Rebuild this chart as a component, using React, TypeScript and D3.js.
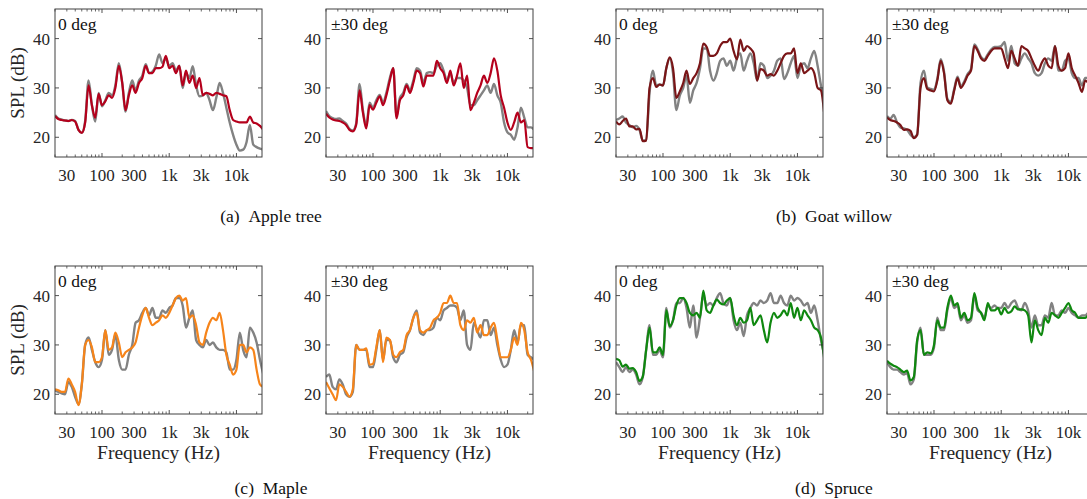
import React from 'react';
import * as d3 from 'd3';

// frequency grid shared by every curve (Hz)
const FREQS = [20, 22.4, 25.1, 28.2, 31.6, 35.5, 39.8, 44.7, 50.1, 56.2, 63.1, 70.8, 79.4, 89.1,
  100, 112, 126, 141, 158, 178, 200, 224, 251, 282, 316, 355, 398, 447, 501, 562, 631, 708, 794, 891,
  1000, 1122, 1259, 1413, 1585, 1778, 1995, 2239, 2512, 2818, 3162, 3548, 3981, 4467, 5012, 5623,
  6310, 7079, 7943, 8913, 10000, 11220, 12589, 14125, 15849, 17783, 19953, 22387, 25119];

const X_TICK_LABELS = [30, 100, 300, 1000, 3000, 10000];
const X_MAJOR = [100, 1000, 10000];
const X_MINOR = [20, 30, 40, 50, 60, 70, 80, 90, 200, 300, 400, 500, 600, 700, 800, 900,
  2000, 3000, 4000, 5000, 6000, 7000, 8000, 9000, 20000];
const Y_TICKS = [20, 30, 40];

// (a) Apple tree
const appleFront = [24.3, 23.7, 23.5, 23.4, 23.3, 23.5, 23.2, 21.5, 20.9, 23, 30.5, 26.5, 24, 28.8, 26.5, 27.3, 28.5, 28, 30, 34.5,
  31, 25.5, 28.5, 30.5, 29, 31, 32, 34.5, 33, 33, 34, 34, 34.3, 36.5, 34, 34.5, 33, 34.5, 30.5, 33.5,
  31, 32.5, 30, 32, 28.5, 29, 28.8, 28.5, 29, 28.8, 28.5, 28.3, 25.5, 23.5, 23.2, 23, 23, 23, 24.2, 23,
  22.8, 22.3, 21.5];
const appleFrontRef = [24.5, 23.8, 23.6, 23.4, 23.3, 23.5, 23.3, 21.5, 20.9, 23.3, 31.5, 26.5, 23.2, 29, 26.3, 27.5, 29, 28.5, 30.5, 35,
  31, 25.2, 29, 31.5, 29.5, 31.5, 32.5, 34.8, 33, 33.3, 34.5, 36.8, 35, 36, 34.5, 35, 33.5, 34.5, 30, 33,
  32, 34.4, 30.5, 28.3, 28.5, 29, 27.5, 25.5, 28, 31, 29, 26, 23, 20.5, 18.5, 17.3, 17.5, 19, 22.5, 18.5,
  18, 17.7, 17.5];
const appleSide = [24.8, 24, 23.6, 23.4, 23.3, 23, 22.5, 21.5, 21.2, 22.5, 29.5, 25, 21.8, 26.5, 25.6, 27, 28.3, 26.5, 28.5, 31.5,
  34, 23.8, 27.5, 28.5, 30.5, 29, 31, 33.5, 33, 30.3, 32.5, 32.5, 32.5, 35.5, 34, 33, 31, 33.5, 30.5, 32.5,
  35, 30, 32.5, 25.5, 27, 29, 30.5, 32.5, 31, 33, 36, 33.5, 28.5, 26, 23, 21.5, 23, 25, 23, 23.5,
  18, 17.8, 17.8];
const appleSideRef = [25.3, 24.3, 23.9, 23.7, 23.8, 23.3, 22.8, 21.7, 21.4, 22.8, 30.8, 25.5, 22.3, 27, 26, 27.5, 28.6, 27, 29, 32,
  34, 24.3, 28, 29, 30.8, 29.5, 31.5, 34, 33.5, 31, 33, 33.2, 33, 34.5, 35, 33.5, 31.5, 33, 31, 32,
  32, 31.5, 30, 26.5, 26.5, 27.5, 28.5, 29.5, 30.5, 29, 30.8, 28.5, 27, 23, 21, 20.5, 19.5, 22, 26, 24,
  22, 22, 21.5];

// (b) Goat willow
const goatFront = [23.2, 22.6, 23.3, 23.8, 22.2, 22.2, 21.6, 21.7, 19.2, 19.3, 30, 32, 30.2, 30.7, 30.5, 34, 36.2, 34, 28, 29.3,
  31, 33.5, 30.8, 32, 33, 35, 39, 38.3, 36.5, 36.5, 37, 38.5, 39.3, 39.3, 40, 37.5, 35.8, 39.8, 37.5, 38.5,
  38, 37, 31.5, 33.8, 33.5, 32.5, 32.8, 32.5, 33.5, 35, 36.5, 37, 37, 38, 33, 35, 33, 33.5, 34, 33,
  30, 29.5, 24.5];
const goatFrontRef = [23.5, 23.8, 24.2, 23, 22.5, 22, 22.3, 21.5, 19.3, 19.5, 29, 33.5, 30.5, 30.7, 30.5, 34, 36, 33, 25.5, 28.5,
  30, 32.5, 27, 29.5, 31, 34, 38, 38, 33.5, 31.5, 33, 35.5, 36, 34.5, 35.5, 33.5, 36, 37, 33.5, 35.5,
  37, 35, 31.5, 35, 34.5, 32, 32.5, 33.5, 35.5, 36, 31.8, 33, 35, 36.5, 32, 34.5, 35, 34, 36, 37.5,
  34.5, 30.5, 27];
const goatSide = [24, 23.5, 23.3, 23, 22.5, 21.5, 21.6, 21.3, 19.8, 20.5, 30, 32, 29.8, 29.5, 29.3, 31.5, 35.5, 33, 27.5, 26.8,
  29.5, 32, 30, 31, 32.5, 33.5, 38.5, 37.5, 36, 35.5, 36.5, 37.5, 38, 38, 38, 36, 34, 37.5, 36, 34.5,
  38.5, 38, 37.5, 36, 34.5, 33.5, 35, 36, 34.5, 34, 38.5, 34.5, 33.5, 34, 37, 34, 32.5, 31, 29.2, 31.5,
  31, 30.5, 30];
const goatSideRef = [24.3, 23.8, 24.5, 23, 22, 21.8, 21.5, 20.5, 20, 20.5, 31, 33.5, 30.1, 29.8, 29.6, 31.8, 35.8, 33.3, 27.8, 27.1,
  29.8, 32.3, 30.3, 31.3, 32.8, 33.8, 38.8, 37.8, 36.3, 35.8, 36.8, 37.8, 38.3, 38.3, 38.5, 39.3, 35.5, 38.5, 35, 34.5,
  36, 37, 36, 35, 33, 32.5, 33, 35, 36, 35.5, 38.5, 33.5, 33.5, 35.5, 36, 33, 32, 32, 30.5, 32,
  32, 31, 30.5];

// (c) Maple
const mapleFront = [21, 20.8, 20.5, 20.5, 23.2, 22, 20.5, 17.8, 22, 30, 31, 29.5, 26.5, 26.5, 27.5, 33, 29, 29.5, 32.5, 30.5,
  27.5, 28.5, 29, 29.5, 30.5, 33.5, 36, 37.5, 35.5, 34, 34.5, 35, 36, 35.5, 36.5, 38, 39.5, 40, 39, 39.5,
  35.5, 36, 34, 30.5, 30, 32.5, 34.5, 35.5, 35, 36.5, 33, 28, 26, 24, 25, 30, 30, 28.5, 29.5, 29,
  25, 22, 21.5];
const mapleFrontRef = [20.8, 20.5, 20.2, 20, 22.5, 21.5, 19.5, 18, 22, 30, 31.5, 29, 26.5, 25.5, 27, 33, 28, 29, 32, 27,
  25, 25, 28, 30, 34.5, 35, 36.5, 37.5, 36, 37.5, 35.5, 35.5, 37, 36.5, 37.5, 38, 39.5, 39.5, 38, 33.5,
  35.5, 37, 31, 30, 29.5, 31, 30, 30.5, 29.5, 29, 29, 28.5, 25, 25, 27, 32.5, 29, 27.5, 33.5, 32.5,
  30.5, 27, 24];
const mapleSide = [22.5, 21.2, 20, 18.8, 22, 21.5, 20.5, 19.5, 21, 30, 29, 29, 29.3, 26, 26.2, 29.5, 33, 26.5, 31.5, 31,
  28, 27.5, 28.5, 29, 32, 33, 35.5, 36.5, 33, 32.5, 33, 33.5, 35, 35.5, 36.5, 38.5, 38.5, 40, 38.5, 38.5,
  34, 33, 35, 34.5, 35.5, 32.5, 34, 32, 32, 33.5, 34.5, 31, 27.5, 27.5, 27.5, 29, 31.5, 30, 34.5, 33,
  28.5, 27, 24.5];
const mapleSideRef = [23.5, 24, 21.5, 21, 23, 22, 20, 19.5, 20.5, 30, 29, 29, 29, 25.5, 25.5, 29, 33, 27, 31, 31,
  27.5, 26.5, 28, 28.5, 31.5, 33, 35.5, 37, 32.5, 32, 33, 33, 33.5, 35.5, 35, 37, 37.5, 38, 38, 37.5,
  35, 37, 30, 29, 34.5, 33, 31.5, 35, 35, 32, 33.5, 30, 27, 25.5, 26, 29, 33, 30.5, 34, 34,
  28, 27.5, 27];

// (d) Spruce
const spruceFront = [27.2, 26.9, 25.6, 26, 25.2, 25.3, 24.5, 22.7, 23.6, 29, 33.5, 28.5, 28.5, 29.5, 28, 37, 33.8, 35, 38, 39.5,
  39.5, 38.5, 36.5, 36, 36.5, 35.5, 41, 37, 36.5, 38, 39.2, 38.5, 38.2, 39, 39.5, 36, 34, 35.5, 34.5, 35,
  37.5, 34, 35, 36, 33, 30.5, 34.5, 36.5, 35.5, 36, 37, 36, 38.5, 35.5, 37.5, 35, 37, 36, 35, 33.5,
  33, 31.5, 27];
const spruceFrontRef = [26.5, 25.5, 24.5, 25.5, 24.5, 25, 24, 22, 23.5, 29, 34, 28, 28, 29, 27.5, 37.5, 33.5, 35, 38.5, 38.5,
  39.5, 37.5, 33.5, 38, 31.5, 35.5, 40, 38, 38.5, 38, 39.5, 40.5, 38.5, 38, 39.5, 35, 33, 34.5, 31.8, 36,
  37.5, 38.5, 38, 39, 38.5, 39, 40.5, 38.5, 38.5, 40, 38.5, 38, 40, 39, 39.5, 39, 38, 38.5, 36.5, 38,
  35, 31, 28];
const spruceSide = [26.8, 26.2, 25.8, 25.5, 25, 24.5, 24.8, 22.8, 23.5, 31, 33, 28, 28.5, 28.3, 30, 35, 33.5, 33.5, 37.5, 40,
  38, 38.5, 35.5, 36.5, 35, 35.5, 40.5, 37.5, 36.5, 35, 38.5, 37, 37, 37.5, 36.2, 37.5, 36.5, 36.8, 37.8, 37.2,
  37.2, 37, 36, 30.5, 35, 33, 32, 35.5, 34.5, 36.5, 36, 35.5, 36.5, 37.5, 38.5, 37, 36.5, 35.5, 35.5, 35.5,
  36, 35, 35];
const spruceSideRef = [26.5, 25.5, 25, 25, 24.5, 24, 24.3, 22, 23, 30.5, 33.5, 28, 28, 28, 29.5, 35.5, 33, 33, 37, 39.5,
  37.5, 38, 35, 36, 34.5, 35, 40, 37, 36.5, 35.5, 38, 37.5, 38, 37.5, 37.5, 38.5, 37.5, 38.5, 39, 37.5,
  37, 38.5, 37, 33.5, 36, 34, 34, 36, 35.5, 38.5, 36, 36, 37, 36.5, 37.5, 36.5, 36, 35.5, 36, 36,
  36.5, 35.5, 35.5];

const FONT = 'Liberation Serif, Times New Roman, serif';
const AXIS = '#262626';
const GRAY = '#828282';
const W = 207;
const H = 148;

const panels = [
  { id: 'a0', x: 55, y: 9, label: '0 deg', data: appleFront, ref: appleFrontRef, color: '#b5001c', ylab: true, xlab: false },
  { id: 'a1', x: 326, y: 9, label: '±30 deg', data: appleSide, ref: appleSideRef, color: '#b5001c', ylab: false, xlab: false },
  { id: 'b0', x: 616, y: 9, label: '0 deg', data: goatFront, ref: goatFrontRef, color: '#7a1517', ylab: false, xlab: false },
  { id: 'b1', x: 887, y: 9, label: '±30 deg', data: goatSide, ref: goatSideRef, color: '#7a1517', ylab: false, xlab: false },
  { id: 'c0', x: 55, y: 266, label: '0 deg', data: mapleFront, ref: mapleFrontRef, color: '#f6841a', ylab: true, xlab: true },
  { id: 'c1', x: 326, y: 266, label: '±30 deg', data: mapleSide, ref: mapleSideRef, color: '#f6841a', ylab: false, xlab: true },
  { id: 'd0', x: 616, y: 266, label: '0 deg', data: spruceFront, ref: spruceFrontRef, color: '#0f880f', ylab: false, xlab: true },
  { id: 'd1', x: 887, y: 266, label: '±30 deg', data: spruceSide, ref: spruceSideRef, color: '#0f880f', ylab: false, xlab: true },
];

const captions = [
  { x: 271, y: 222, text: '(a)\u2002Apple tree' },
  { x: 834, y: 222, text: '(b)\u2002Goat willow' },
  { x: 271, y: 494, text: '(c)\u2002Maple' },
  { x: 834, y: 494, text: '(d)\u2002Spruce' },
];

const fmtFreq = (f: number) => (f >= 1000 ? `${f / 1000}k` : `${f}`);

function Panel({ p }: { p: typeof panels[number] }) {
  const x = d3.scaleLog().domain([20, 24000]).range([0, W]);
  const y = d3.scaleLinear().domain([16, 46]).range([H, 0]);
  const line = d3.line<number>()
    .x((_, i) => x(FREQS[i]))
    .y(d => y(d))
    .curve(d3.curveMonotoneX);

  return (
    <g transform={`translate(${p.x},${p.y})`}>
      <defs>
        <clipPath id={`clip-${p.id}`}>
          <rect x={0} y={0} width={W} height={H} />
        </clipPath>
      </defs>
      <rect x={0} y={0} width={W} height={H} fill="white" />
      <g clipPath={`url(#clip-${p.id})`}>
        <path d={line(p.ref) || ''} fill="none" stroke={GRAY} strokeWidth={2.4} strokeLinejoin="round" />
        <path d={line(p.data) || ''} fill="none" stroke={p.color} strokeWidth={2.2} strokeLinejoin="round" />
      </g>
      {/* ticks, inside, on all four sides */}
      {X_MAJOR.map(f => (
        <g key={'M' + f}>
          <line x1={x(f)} x2={x(f)} y1={H} y2={H - 4} stroke={AXIS} strokeWidth={0.8} />
          <line x1={x(f)} x2={x(f)} y1={0} y2={4} stroke={AXIS} strokeWidth={0.8} />
        </g>
      ))}
      {X_MINOR.map(f => (
        <g key={'m' + f}>
          <line x1={x(f)} x2={x(f)} y1={H} y2={H - 2.5} stroke={AXIS} strokeWidth={0.7} />
          <line x1={x(f)} x2={x(f)} y1={0} y2={2.5} stroke={AXIS} strokeWidth={0.7} />
        </g>
      ))}
      {Y_TICKS.map(v => (
        <g key={'y' + v}>
          <line x1={0} x2={4} y1={y(v)} y2={y(v)} stroke={AXIS} strokeWidth={0.8} />
          <line x1={W - 4} x2={W} y1={y(v)} y2={y(v)} stroke={AXIS} strokeWidth={0.8} />
          <text x={-5} y={y(v)} dy="0.35em" textAnchor="end" fontSize={17} fill={AXIS}>{v}</text>
        </g>
      ))}
      {X_TICK_LABELS.map(f => (
        <text key={'xl' + f} x={x(f)} y={H + 24} textAnchor="middle" fontSize={17} fill={AXIS}>{fmtFreq(f)}</text>
      ))}
      <rect x={0} y={0} width={W} height={H} fill="none" stroke="#404040" strokeWidth={1} />
      <text x={p.label === '0 deg' ? 3 : 5} y={21} fontSize={17.5} fill="#111">{p.label}</text>
      {p.ylab && (
        <text transform={`translate(${-31},${H / 2}) rotate(-90)`} textAnchor="middle" fontSize={19} fill={AXIS}>SPL (dB)</text>
      )}
      {p.xlab && (
        <text x={W / 2} y={H + 45} textAnchor="middle" fontSize={19.5} fill={AXIS}>Frequency (Hz)</text>
      )}
    </g>
  );
}

export default function App() {
  return (
    <svg width={1087} height={499} style={{ position: 'absolute', left: 0, top: 0, background: 'white', fontFamily: FONT }}>
      {panels.map(p => <Panel key={p.id} p={p} />)}
      {captions.map(c => (
        <text key={c.text} x={c.x} y={c.y} textAnchor="middle" fontSize={17.5} fill="#111">{c.text}</text>
      ))}
    </svg>
  );
}
